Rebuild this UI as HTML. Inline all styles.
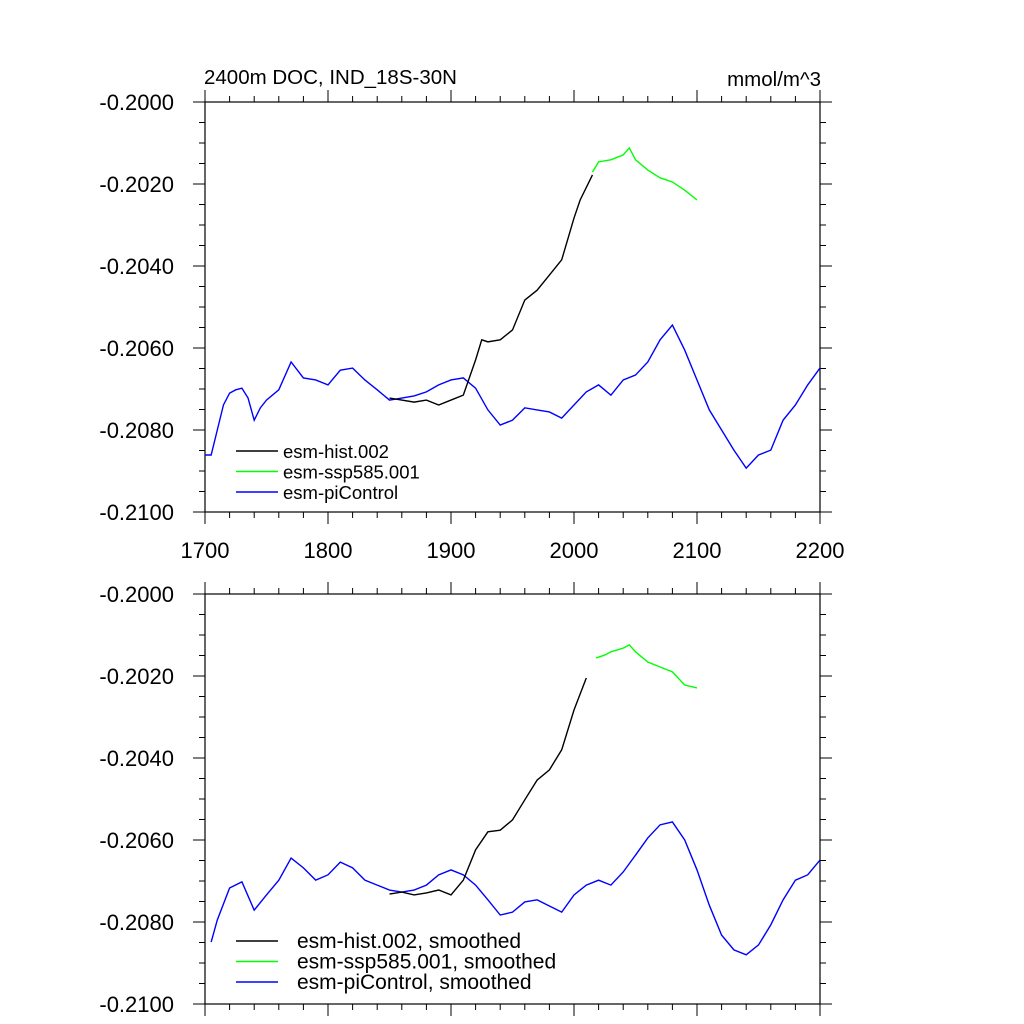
<!DOCTYPE html>
<html><head><meta charset="utf-8"><style>
body{margin:0;background:#fff}
svg{display:block}
text{font-family:"Liberation Sans",sans-serif;fill:#000}
</style></head><body>
<svg id="chart" width="1024" height="1024" viewBox="0 0 1024 1024" xmlns="http://www.w3.org/2000/svg"></svg>
<script>
const piYears=[1700,1705,1710,1715,1720,1725,1730,1735,1740,1745,1750,1760,1770,1780,1790,1800,1810,1820,1830,1840,1850,1860,1870,1880,1890,1900,1910,1920,1930,1940,1950,1960,1970,1980,1990,2000,2010,2020,2030,2040,2050,2060,2070,2080,2090,2100,2110,2120,2130,2140,2150,2160,2170,2180,2190,2200];
const piVals=[-0.20861,-0.20861,-0.20800,-0.20739,-0.20710,-0.20702,-0.20698,-0.20722,-0.20776,-0.20746,-0.20727,-0.20702,-0.20634,-0.20673,-0.20678,-0.20690,-0.20654,-0.20649,-0.20678,-0.20702,-0.20727,-0.20722,-0.20717,-0.20707,-0.20690,-0.20678,-0.20673,-0.20698,-0.20751,-0.20788,-0.20776,-0.20746,-0.20751,-0.20756,-0.20771,-0.20739,-0.20707,-0.20690,-0.20715,-0.20678,-0.20666,-0.20634,-0.20580,-0.20544,-0.20605,-0.20678,-0.20751,-0.20800,-0.20849,-0.20893,-0.20861,-0.20849,-0.20776,-0.20739,-0.20690,-0.20649];
const histYears=[1850,1860,1870,1880,1890,1900,1910,1920,1925,1930,1940,1950,1960,1970,1980,1990,2000,2005,2015];
const histVals=[-0.20722,-0.20727,-0.20732,-0.20727,-0.20739,-0.20727,-0.20715,-0.20629,-0.20580,-0.20585,-0.20580,-0.20556,-0.20483,-0.20459,-0.20422,-0.20385,-0.20283,-0.20239,-0.20178];
const sspYears=[2015,2020,2030,2040,2045,2050,2060,2070,2080,2090,2100];
const sspVals=[-0.20171,-0.20146,-0.20141,-0.20129,-0.20112,-0.20141,-0.20166,-0.20185,-0.20195,-0.20215,-0.20239];
const piSmYears=[1705,1710,1720,1730,1740,1750,1760,1770,1780,1790,1800,1810,1820,1830,1840,1850,1860,1870,1880,1890,1900,1910,1920,1930,1940,1950,1960,1970,1980,1990,2000,2010,2020,2030,2040,2050,2060,2070,2080,2090,2100,2110,2120,2130,2140,2150,2160,2170,2180,2190,2200];
const piSmVals=[-0.20849,-0.20795,-0.20717,-0.20702,-0.20771,-0.20734,-0.20698,-0.20644,-0.20668,-0.20698,-0.20685,-0.20654,-0.20668,-0.20698,-0.20710,-0.20722,-0.20727,-0.20722,-0.20710,-0.20685,-0.20673,-0.20685,-0.20710,-0.20746,-0.20783,-0.20776,-0.20751,-0.20746,-0.20761,-0.20776,-0.20734,-0.20710,-0.20698,-0.20710,-0.20678,-0.20637,-0.20595,-0.20563,-0.20556,-0.20600,-0.20673,-0.20759,-0.20832,-0.20868,-0.20880,-0.20856,-0.20807,-0.20746,-0.20698,-0.20685,-0.20649];
const histSmYears=[1850,1860,1870,1880,1890,1900,1910,1920,1930,1940,1950,1960,1970,1980,1990,2000,2010];
const histSmVals=[-0.20732,-0.20727,-0.20734,-0.20729,-0.20722,-0.20734,-0.20698,-0.20624,-0.20580,-0.20576,-0.20551,-0.20502,-0.20454,-0.20429,-0.20380,-0.20283,-0.20205];
const sspSmYears=[2018,2025,2030,2040,2045,2050,2060,2070,2080,2090,2100];
const sspSmVals=[-0.20156,-0.20149,-0.20141,-0.20132,-0.20124,-0.20141,-0.20166,-0.20178,-0.20190,-0.20222,-0.20229];
const xTicks=[1700,1800,1900,2000,2100,2200];
const yTicks=[-0.2000,-0.2020,-0.2040,-0.2060,-0.2080,-0.2100];

const svg=document.getElementById('chart');
const NS='http://www.w3.org/2000/svg';
function mk(tag,attrs,parent){const e=document.createElementNS(NS,tag);for(const k in attrs)e.setAttribute(k,attrs[k]);(parent||svg).appendChild(e);return e;}
const X0=205,X1=820;
const xs=v=>X0+(v-1700)/500*(X1-X0);
function panel(top,name,series,legend,showXLabels){
  const g=mk('g',{});
  
  
  const bot=top+410;
  const ys=v=>top+(-0.2-v)/0.01*410;
  mk('rect',{x:X0,y:top,width:X1-X0,height:410,fill:'none',stroke:'#000','stroke-width':1.2},g);
  for(let yr=1700;yr<=2200;yr+=20){
    const maj=(yr%100===0), L=maj?12:6, x=xs(yr);
    mk('line',{x1:x,x2:x,y1:bot,y2:bot+L,stroke:'#000','stroke-width':1},g);
    mk('line',{x1:x,x2:x,y1:top,y2:top-L,stroke:'#000','stroke-width':1},g);
  }
  for(let i=0;i<=20;i++){
    const y=top+i*20.5, maj=(i%4===0), L=maj?12:6;
    mk('line',{x1:X0,x2:X0-L,y1:y,y2:y,stroke:'#000','stroke-width':1},g);
    mk('line',{x1:X1,x2:X1+L,y1:y,y2:y,stroke:'#000','stroke-width':1},g);
  }
  yTicks.forEach(t=>{
    const tx=mk('text',{x:174,y:ys(t)+8,'text-anchor':'end','font-size':22},g);
    
    
    tx.textContent=t.toFixed(4);
  });
  if(showXLabels) xTicks.forEach(t=>{
    const tx=mk('text',{x:xs(t),y:bot+46,'text-anchor':'middle','font-size':22},g);
    
    
    tx.textContent=t;
  });
  series.forEach(s=>{
    const p=mk('polyline',{fill:'none',stroke:s.c,'stroke-width':1.4,points:s.x.map((yr,i)=>xs(yr)+','+ys(s.y[i])).join(' ')},g);
    
    
  });
  legend.items.forEach((it,i)=>{
    const y=legend.y+i*20.5;
    const l=mk('line',{x1:legend.x,x2:legend.x+42,y1:y,y2:y,stroke:it.c,'stroke-width':1.4},g);
    
    
    const t=mk('text',{x:legend.x+legend.off,y:y+7,'font-size':legend.fs},g);
    
    
    t.textContent=it.t;
  });
}
panel(102,'top-panel',[
  {x:piYears,y:piVals,c:'#0000ff',n:'picontrol-line'},
  {x:histYears,y:histVals,c:'#000000',n:'hist-line'},
  {x:sspYears,y:sspVals,c:'#00ff00',n:'ssp585-line'}],
  {x:236,y:451,off:47,fs:18.5,items:[{c:'#000',t:'esm-hist.002'},{c:'#00ff00',t:'esm-ssp585.001'},{c:'#0000ff',t:'esm-piControl'}]},true);
panel(594,'bottom-panel',[
  {x:piSmYears,y:piSmVals,c:'#0000ff',n:'picontrol-smoothed-line'},
  {x:histSmYears,y:histSmVals,c:'#000000',n:'hist-smoothed-line'},
  {x:sspSmYears,y:sspSmVals,c:'#00ff00',n:'ssp585-smoothed-line'}],
  {x:236,y:941,off:61,fs:21,items:[{c:'#000',t:'esm-hist.002, smoothed'},{c:'#00ff00',t:'esm-ssp585.001, smoothed'},{c:'#0000ff',t:'esm-piControl, smoothed'}]},false);
const t1=mk('text',{x:204,y:84,'font-size':20.5});


t1.textContent='2400m DOC, IND_18S-30N';
const t2=mk('text',{x:821,y:86,'font-size':20.5,'text-anchor':'end'});


t2.textContent='mmol/m^3';
</script>
</body></html>
